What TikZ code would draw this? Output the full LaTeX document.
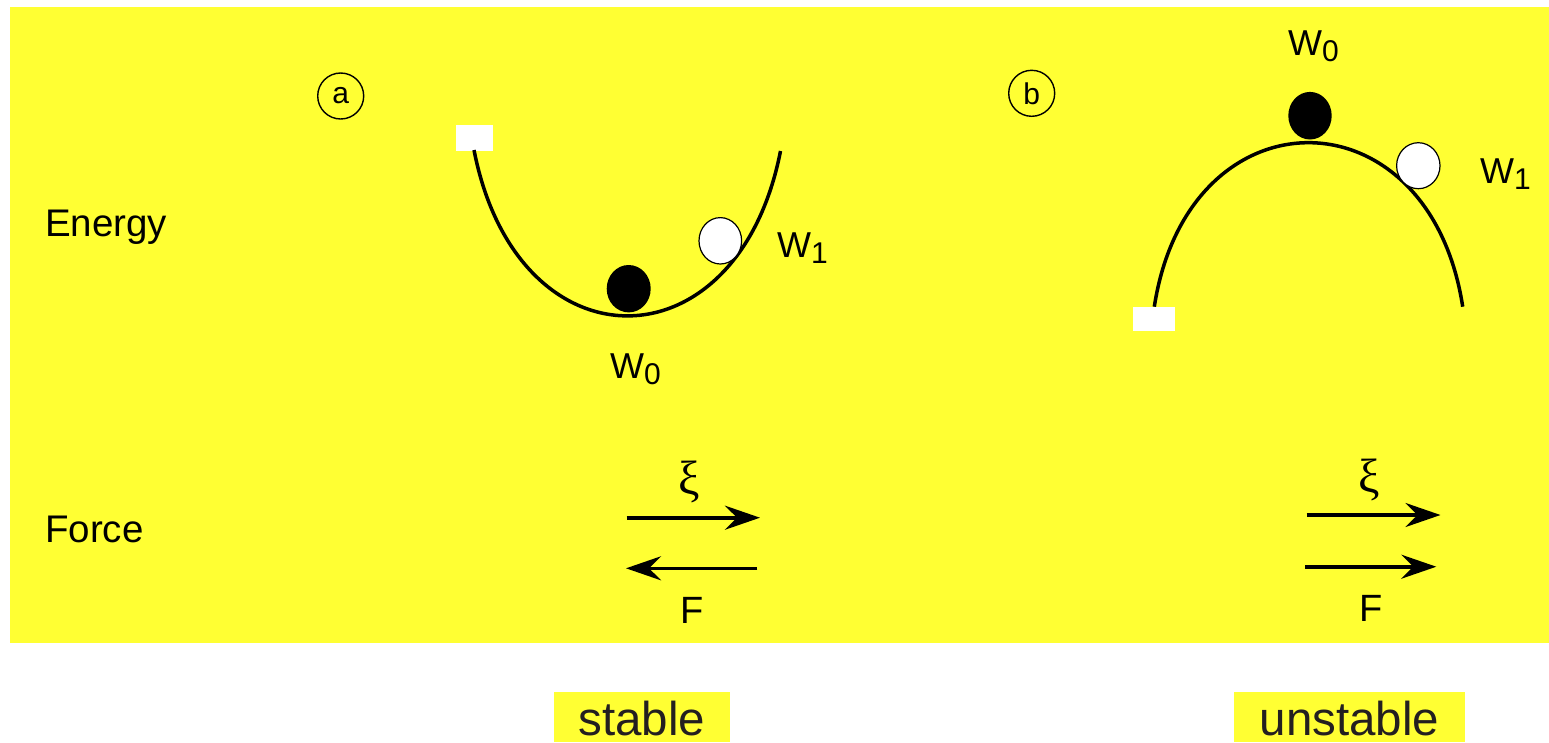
\documentclass[tikz,border=0pt]{standalone}
\usepackage{fontspec}
\setmainfont{Liberation Sans}
\newfontfamily\greekfont{Liberation Serif}
\usetikzlibrary{arrows.meta}
\definecolor{bgyellow}{RGB}{255,255,51}
\definecolor{darktext}{RGB}{35,31,32}
\newcommand{\Wlab}[1]{W{\fontsize{30}{30}\selectfont\raisebox{-6.5pt}{#1}}}
\tikzset{
  lbl/.style={inner sep=0pt, anchor=base west, font=\fontsize{38.5}{38.5}\selectfont},
  wlab/.style={inner sep=0pt, anchor=base west, font=\fontsize{36}{36}\selectfont},
  curve/.style={line width=3.5pt},
  ballblack/.style={fill=black},
  ballwhite/.style={fill=white, draw=black, line width=1.2pt},
  whitebox/.style={fill=white},
  circlab/.style={circle, draw=black, line width=1.4pt, minimum size=46pt, inner sep=0pt, font=\fontsize{30}{30}\selectfont},
  vec/.style={line width=3.6pt, -{Stealth[length=35pt, width=24pt, inset=12pt]}},
  greek/.style={inner sep=0pt, font=\fontsize{48}{48}\selectfont\greekfont},
  flab/.style={inner sep=0pt, anchor=base, font=\fontsize{38}{38}\selectfont},
  verdict/.style={fill=bgyellow, inner sep=0pt, text=darktext, font=\fontsize{47.5}{47.5}\selectfont}
}
\begin{document}
\begin{tikzpicture}[x=1pt, y=-1pt]
\useasboundingbox (0,0) rectangle (1549,742);
\fill[bgyellow] (10,7) rectangle (1549,643);

% labels
\node[lbl] (energy) at (45,236) {Energy};
\node[lbl] (force) at (45,542) {Force};
\node[circlab] (ca) at (340.7,96) {a};
\node[circlab] (cb) at (1031.7,93.3) {b};

% --- panel a ---
\fill[whitebox] (456,125) rectangle (492.7,151);
\coordinate (aL) at (474,150);
\coordinate (aR) at (780.5,151);
\draw[curve] (aL) .. controls (517,371) and (737.5,371) .. (aR);
\fill[ballblack] (628.7,288.7) ellipse [x radius=22, y radius=23.7];
\filldraw[ballwhite] (720.3,240.8) ellipse [x radius=21.3, y radius=23.2];
\node[wlab] (aw1) at (777,257) {\Wlab{1}};
\node[wlab] (aw0) at (610,378.3) {\Wlab{0}};

% --- panel b ---
\fill[whitebox] (1133.3,307.3) rectangle (1175,330.7);
\coordinate (bL) at (1154.3,306.7);
\coordinate (bR) at (1462.7,306.7);
\draw[curve] (bL) .. controls (1188,88) and (1429,88) .. (bR);
\fill[ballblack] (1310,115.7) ellipse [x radius=21.7, y radius=23.8];
\filldraw[ballwhite] (1418.3,165.7) ellipse [x radius=21.7, y radius=23];
\node[wlab] (bw0) at (1288,55) {\Wlab{0}};
\node[wlab] (bw1) at (1480,183) {\Wlab{1}};

% --- force arrows a ---
\coordinate (axs) at (626.7,517.7);
\coordinate (axe) at (760,517.7);
\coordinate (afs) at (757.3,568.3);
\coordinate (afe) at (626,568.3);
\draw[vec] (axs) -- (axe);
\draw[vec] (afs) -- (afe);
\node[greek] (axi) at (689.3,482.3) {ξ};
\node[flab] (af) at (691.7,623) {F};

% --- force arrows b ---
\coordinate (bxs) at (1306.7,515);
\coordinate (bxe) at (1440.5,515);
\coordinate (bfs) at (1305,566.7);
\coordinate (bfe) at (1436.3,566.7);
\draw[vec] (bxs) -- (bxe);
\draw[vec] (bfs) -- (bfe);
\node[greek] (bxi) at (1369.3,480) {ξ};
\node[flab] (bf) at (1370.7,621.7) {F};

% --- verdicts ---
\fill[bgyellow] (554,692) rectangle (730,742);
\node[verdict, anchor=base] (stable) at (642,735) {stable};
\fill[bgyellow] (1234,692.3) rectangle (1465,742);
\node[verdict, anchor=base] (unstable) at (1349.5,735) {unstable};
\end{tikzpicture}
\end{document}
